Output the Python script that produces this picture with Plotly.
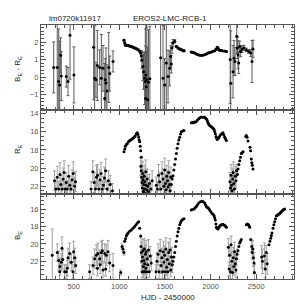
import plotly.graph_objects as go
from plotly.subplots import make_subplots

# ---------------- data ----------------
# R_E band: faint points (with error bars)
r_faint_hjd = [290,305,320,335,350,360,372,385,395,405,418,430,445,458,470,482,495,510,520,
               690,710,725,738,750,762,775,788,800,812,825,838,850,865,880,900,925,
               1236,1240,1244,1248,1252,1256,1260,1264,1268,1272,1276,1280,1285,1290,1295,1300,1305,1312,1320,1330,1345,1360,
               1405,1418,1430,1442,1455,1468,1478,1488,1498,1505,1512,1520,1528,1535,1542,1550,1558,1565,
               2212,2218,2224,2230,2236,2242,2248,2255,2262,2270,2278,2286]
r_faint_mag = [21.4,22.3,21.0,22.3,20.7,21.8,22.3,21.2,20.5,22.3,21.6,22.3,20.9,21.9,22.3,21.3,20.6,22.0,21.5,
               22.3,20.4,21.6,22.3,21.0,20.8,22.3,21.3,20.6,22.3,21.9,21.1,20.3,22.3,21.4,21.8,22.5,
               19.8,20.3,21.0,21.6,22.2,20.6,21.3,22.6,21.8,20.9,22.3,21.5,22.8,20.4,21.9,22.4,21.2,22.0,22.6,21.7,22.3,21.4,
               21.9,22.3,20.8,21.5,22.3,20.6,21.2,22.0,20.2,21.7,22.4,20.9,21.4,22.1,20.5,21.8,22.5,21.0,
               21.5,22.2,20.8,21.9,22.5,21.2,20.5,21.7,22.3,20.9,21.4,20.3]
r_faint_err = [1.1,0.9,1.2,0.8,1.3,1.0,0.9,1.2,1.3,0.8,1.1,0.9,1.2,1.0,0.8,1.1,1.3,1.0,1.1,
               0.8,1.2,1.1,0.9,1.3,1.2,0.8,1.1,1.2,0.9,1.0,1.2,1.3,0.9,1.1,1.0,0.8,
               1.0,1.1,0.9,1.2,0.8,1.3,1.0,0.7,1.1,1.2,0.9,1.0,0.7,1.3,1.0,0.8,1.1,0.9,0.7,1.0,0.8,1.1,
               0.9,0.8,1.2,1.0,0.8,1.3,1.1,0.9,1.3,1.0,0.8,1.2,1.1,0.9,1.3,1.0,0.8,1.1,
               1.0,0.8,1.2,0.9,0.7,1.1,1.2,1.0,0.8,1.1,0.9,0.7]
# R_E band: well measured points
r_hjd = [1051,1060,1066,1077,1087,1100,1114,1126,1139,1150,1161,1174,1186,1197,1205,1212,1218,1223,1229,1234,1241,
         1570,1580,1588,1598,1607,1616,1625,1634,1643,1652,1662,1671,1680,1694,1709,
         1789,1800,1810,1818,1830,1844,1857,1870,1884,1898,1915,1935,1946,1957,1965,1972,1980,1990,2003,2016,
         2027,2038,2045,2052,2060,2067,2074,2085,2098,2111,2124,2136,2146,2155,2164,2173,
         2294,2301,2310,2319,2328,2337,2346,2356,2385,2392,2400,2410,2432,2438,2446,2452,2457,2465]
r_mag = [18.2,17.9,17.6,17.4,17.3,17.1,16.95,16.9,16.8,16.7,16.6,16.45,16.2,16.1,16.3,16.6,16.9,17.1,17.6,18.1,18.8,
         21.8,21.2,20.85,20.2,19.6,19.0,18.4,17.8,17.3,16.9,16.6,16.25,16.0,15.9,15.85,
         15.0,15.0,15.0,14.95,14.9,14.85,14.7,14.55,14.45,14.37,14.38,14.4,14.5,14.6,14.8,15.0,15.15,15.3,15.4,15.5,
         15.6,15.74,15.95,16.2,16.5,16.7,16.85,16.7,16.5,16.3,16.2,16.1,16.35,16.6,16.8,16.96,
         20.7,20.1,19.6,19.2,18.8,18.4,18.3,18.2,16.5,16.4,16.6,17.0,17.7,18.1,19.0,19.4,19.7,20.1]

# B_E band: faint points (with error bars)
b_faint_hjd = [265,320,336,347,350,364,372,380,401,419,430,438,456,474,492,500,511,522,
               675,712,730,748,760,766,785,790,803,815,821,840,850,857,876,895,931,
               1015,1030,1040,1050,
               1238,1242,1246,1250,1254,1258,1262,1266,1270,1274,1278,1282,1286,1290,1295,1300,1306,1312,1320,1328,1338,1350,
               1402,1412,1425,1436,1448,1458,1466,1474,1482,1490,1497,1504,1511,1518,1525,1532,1540,1548,1556,1564,1572,1580,
               2195,2203,2210,2218,2225,2232,2240,2248,2255,2262,2270,2278,2282,2290,
               2451,2456,2462,2470,2476,2480,
               2560,2568,2590,2600,2610,2620]
b_faint_mag = [21.3,21.0,21.9,23.2,22.6,22.1,20.5,21.8,23.2,23.2,22.8,21.6,21.1,22.1,23.2,20.9,21.6,22.5,
               23.2,22.5,21.7,21.3,22.8,21.1,21.7,22.4,21.0,20.8,23.0,21.1,22.9,21.3,20.9,22.2,22.5,
               23.3,20.3,20.6,21.0,
               20.3,21.0,22.0,23.2,21.5,20.8,22.6,23.2,21.9,20.6,22.3,23.2,21.2,22.8,20.9,23.2,21.7,22.4,20.7,23.2,21.4,22.2,
               23.2,22.0,21.2,23.2,20.8,22.5,21.6,23.2,20.9,22.1,21.3,23.2,20.6,22.7,21.8,23.2,21.0,22.3,20.7,23.0,21.5,22.4,
               20.4,22.9,21.3,23.2,20.1,22.0,23.3,21.6,22.6,20.9,22.3,23.0,21.7,21.2,
               20.3,21.0,20.6,21.6,22.2,23.3,
               21.5,22.0,21.4,22.9,21.0,22.3]
b_faint_err = [3.0,1.0,1.1,0.9,1.0,1.0,1.3,1.1,0.8,0.8,0.9,1.1,1.2,1.0,0.8,1.2,1.1,0.9,
               0.8,1.0,1.1,1.2,0.9,1.2,1.0,1.0,1.3,1.2,0.9,1.1,0.8,1.2,1.3,1.0,1.4,
               0.3,0.3,0.3,0.3,
               1.0,1.2,0.9,0.7,1.1,1.3,0.8,0.7,1.0,1.2,0.9,0.8,1.1,0.8,1.3,0.7,1.0,0.9,1.2,0.7,1.1,0.9,
               0.8,1.0,1.2,0.8,1.3,0.9,1.1,0.8,1.2,1.0,1.1,0.8,1.3,0.9,1.0,0.8,1.2,0.9,1.3,0.8,1.1,0.9,
               1.0,0.8,1.2,0.8,1.0,1.1,0.8,1.2,1.0,1.1,1.0,0.9,0.8,0.6,
               0.6,0.8,1.0,1.0,1.2,0.9,
               1.3,1.4,1.5,1.0,0.8,1.2]
# B_E band: well measured points
b_hjd = [1059,1068,1077,1086,1095,1113,1131,1150,1168,1183,1197,1212,1223,1234,
         1588,1598,1607,1616,1625,1634,1643,1652,1662,1671,1680,1694,1709,
         1789,1800,1818,1831,1844,1857,1870,1888,1906,1920,1935,1945,1953,1962,1972,1981,1990,2003,2016,2027,2038,
         2045,2052,2058,2063,2072,2082,2091,2100,2109,2118,2136,2150,2162,2173,
         2300,2310,2319,2328,2337,2392,2401,2410,2420,2429,2440,
         2640,2650,2659,2666,2673,2684,2693,2703,2712,2721,2730,2739,2750,2758,2767,2776,2785,2794,2803,2812]
b_mag = [19.7,19.4,19.1,18.9,18.75,18.55,18.4,18.2,18.0,17.8,17.6,17.45,18.2,19.1,
         22.0,21.5,21.0,20.3,19.7,19.1,18.6,18.2,17.8,17.55,17.35,17.2,17.1,
         16.1,16.05,16.0,15.85,15.7,15.5,15.3,15.15,15.1,15.15,15.3,15.5,15.7,15.8,15.85,15.95,16.1,16.3,16.5,16.6,16.75,
         17.0,17.25,17.7,18.1,18.2,18.3,18.1,17.95,17.85,17.8,17.75,17.85,17.95,18.1,
         20.8,20.3,19.9,19.7,19.5,17.8,17.7,17.75,17.9,18.1,19.5,
         20.1,19.7,19.35,19.05,18.75,18.2,17.8,17.45,17.1,16.75,16.7,16.65,16.55,16.5,16.4,16.3,16.2,16.1,16.05,16.0]

# B_E - R_E colour
c_hjd = [281,320,336,347,357,364,419,438,460,503,
         719,730,744,759,785,803,821,840,846,854,865,884,895,931,
         1051,1059,1066,1077,1087,1095,1114,1131,1150,1168,1186,1205,1223,1234,
         1241,1248,1259,1265,1278,1285,1288,1290,1296,1302,1310,1320,1335,
         1453,1479,1497,1515,1534,1552,1563,1570,1577,1588,1607,1625,1643,1662,1680,1698,1709,
         1789,1800,1810,1826,1844,1862,1880,1898,1915,1935,1955,1972,1990,2008,2027,2045,2060,2074,2085,2092,2110,2125,2150,2173,
         2215,2221,2246,2257,2268,2287,2293,2301,2308,2319,2330,2345,2366,2392,2418,2440,2454,2465]
c_val = [0.55,0.55,-0.26,-0.45,1.24,0.06,0.03,-0.26,2.38,0.12,
         1.7,-0.07,-0.15,0.66,0.55,-0.07,0.5,-1.22,-0.15,-0.34,-0.8,0.55,0.2,0.89,
         2.1,1.95,1.83,1.82,1.8,1.8,1.77,1.75,1.7,1.66,1.62,1.56,1.48,1.37,
         1.2,0.98,0.6,0.3,-0.07,-0.26,-1.22,0.12,-0.55,-0.15,-1.3,-0.3,-0.1,
         1.1,-0.07,-0.45,0.8,0.03,0.5,1.18,0.74,1.66,1.94,2.04,1.75,1.66,1.6,1.56,1.5,1.5,
         1.43,1.42,1.4,1.37,1.32,1.27,1.25,1.24,1.25,1.27,1.32,1.37,1.4,1.43,1.47,1.5,1.58,1.7,1.62,1.55,1.52,1.5,1.48,1.46,
         1.0,-0.36,0.31,1.08,0.89,2.33,1.66,1.27,0.8,1.75,1.46,1.6,1.66,1.55,1.46,1.37,0.89,1.6]
c_err = [1.45,3.0,3.0,2.5,1.0,1.4,0.6,0.8,2.5,1.6,
         3.0,3.0,1.0,2.0,1.0,2.5,1.3,2.0,1.2,2.0,1.5,2.0,1.0,0.6,
         0.05,0.05,0.05,0.05,0.05,0.05,0.05,0.05,0.05,0.05,0.05,0.05,0.05,0.05,
         0.3,0.5,0.8,1.0,1.5,3.0,3.0,3.0,2.0,3.0,3.0,3.0,3.0,
         3.0,3.0,1.5,3.0,1.5,1.0,0.6,0.5,0.3,0.2,0.1,0.05,0.05,0.05,0.05,0.05,0.05,
         0.03,0.03,0.03,0.03,0.03,0.03,0.03,0.03,0.03,0.03,0.03,0.03,0.03,0.03,0.03,0.03,0.03,0.03,0.03,0.03,0.03,0.03,0.03,0.03,
         2.5,3.0,1.5,1.0,0.8,1.0,0.6,0.8,0.6,0.3,0.3,0.2,0.15,0.1,0.1,0.2,1.2,0.5]

x_tickvals = [500, 1000, 1500, 2000, 2500]
c_tickvals = [-1, 0, 1, 2]
r_tickvals = [14, 16, 18, 20, 22]
b_tickvals = [16, 18, 20, 22]

# ---------------- figure ----------------
fig = make_subplots(rows=3, cols=1, shared_xaxes=True, vertical_spacing=0)

mk = dict(color="black", size=3, symbol="circle")
err_gray = "#a0a0a0"
err_dark = "#5a5a5a"

fig.add_trace(go.Scatter(x=c_hjd, y=c_val, mode="markers", marker=mk,
                         error_y=dict(type="data", array=c_err, color=err_dark, thickness=1, width=1.5)),
              row=1, col=1)
fig.add_trace(go.Scatter(x=r_faint_hjd, y=r_faint_mag, mode="markers", marker=mk,
                         error_y=dict(type="data", array=r_faint_err, color=err_gray, thickness=1, width=1.5)),
              row=2, col=1)
fig.add_trace(go.Scatter(x=r_hjd, y=r_mag, mode="markers", marker=mk), row=2, col=1)
fig.add_trace(go.Scatter(x=b_faint_hjd, y=b_faint_mag, mode="markers", marker=mk,
                         error_y=dict(type="data", array=b_faint_err, color=err_gray, thickness=1, width=1.5)),
              row=3, col=1)
fig.add_trace(go.Scatter(x=b_hjd, y=b_mag, mode="markers", marker=mk), row=3, col=1)

tickfont = dict(family="Liberation Sans", size=7.5, color="#555")
axcommon = dict(showline=True, linecolor="#555", linewidth=1, mirror="allticks",
                ticks="inside", ticklen=5, tickcolor="#555", showgrid=False, zeroline=False,
                tickfont=tickfont)

for i in (1, 2, 3):
    fig.update_xaxes(range=[142, 2914], tickvals=x_tickvals, showticklabels=(i == 3),
                     minor=dict(dtick=100, tick0=0, ticks="inside", ticklen=3, tickcolor="#555"),
                     row=i, col=1, **axcommon)

fig.update_yaxes(range=[-1.86, 2.97], tickvals=c_tickvals,
                 minor=dict(dtick=0.2, tick0=0, ticks="inside", ticklen=3, tickcolor="#555"),
                 row=1, col=1, **axcommon)
fig.update_yaxes(range=[22.9, 13.55], tickvals=r_tickvals,
                 minor=dict(dtick=0.5, tick0=0, ticks="inside", ticklen=3, tickcolor="#555"),
                 row=2, col=1, **axcommon)
fig.update_yaxes(range=[24.04, 14.3], tickvals=b_tickvals,
                 minor=dict(dtick=0.5, tick0=0, ticks="inside", ticklen=3, tickcolor="#555"),
                 row=3, col=1, **axcommon)

annfont = dict(family="Liberation Sans", size=8, color="#222222")
fig.add_annotation(text="lm0720k11917", xref="paper", yref="paper", x=0.134, y=1.0,
                   xanchor="center", yanchor="bottom", showarrow=False, font=annfont)
fig.add_annotation(text="EROS2-LMC-RCB-1", xref="paper", yref="paper", x=0.51, y=1.0,
                   xanchor="center", yanchor="bottom", showarrow=False, font=annfont)
fig.add_annotation(text="B<sub>E</sub> - R<sub>E</sub>", xref="paper", yref="paper", x=-0.091, y=0.827,
                   xanchor="center", yanchor="middle", textangle=-90, showarrow=False, font=annfont)
fig.add_annotation(text="R<sub>E</sub>", xref="paper", yref="paper", x=-0.091, y=0.512,
                   xanchor="center", yanchor="middle", textangle=-90, showarrow=False, font=annfont)
fig.add_annotation(text="B<sub>E</sub>", xref="paper", yref="paper", x=-0.091, y=0.173,
                   xanchor="center", yanchor="middle", textangle=-90, showarrow=False, font=annfont)
fig.add_annotation(text="HJD - 2450000", xref="paper", yref="paper", x=0.502, y=0.0,
                   xanchor="center", yanchor="middle", yshift=-18, showarrow=False, font=annfont)

fig.update_layout(width=304, height=304, margin=dict(l=33, r=18, t=17, b=33),
                  paper_bgcolor="white", plot_bgcolor="white", showlegend=False)

fig.write_html("out.html")
